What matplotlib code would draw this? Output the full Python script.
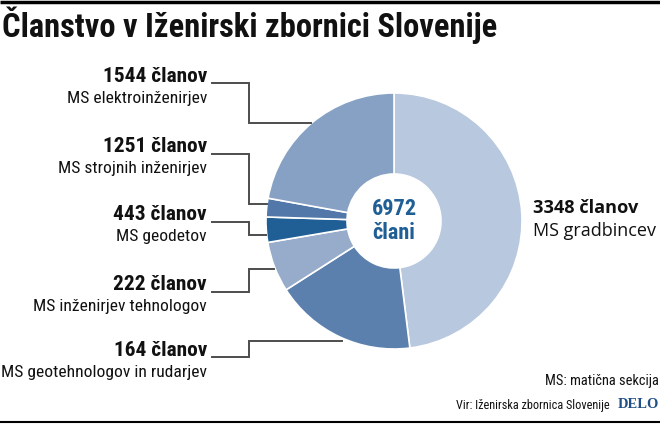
import matplotlib
matplotlib.use('Agg')
import matplotlib.pyplot as plt
from matplotlib import font_manager

names = {f.name for f in font_manager.fontManager.ttflist}
narrow = 'Roboto'
for f in ['Roboto Condensed', 'Liberation Sans Narrow', 'Open Sans Condensed']:
    if f in names:
        narrow = f
        break

# data, in drawing order (clockwise from the top)
sekcije = ['MS gradbincev', 'MS strojnih inženirjev', 'MS geodetov',
           'MS inženirjev tehnologov', 'MS geotehnologov in rudarjev', 'MS elektroinženirjev']
clani = [3348, 1251, 443, 222, 164, 1544]
barve = ['#b8c8df', '#5b80ae', '#96acca', '#1f5f96', '#5178a9', '#86a1c3']
skupaj = 6972

# left side labels (top to bottom)
lev_st = [1544, 1251, 443, 222, 164]
lev_ime = ['MS elektroinženirjev', 'MS strojnih inženirjev', 'MS geodetov',
           'MS inženirjev tehnologov', 'MS geotehnologov in rudarjev']

W, H = 660, 424
fig = plt.figure(figsize=(6.6, 4.24), dpi=100)
ax = fig.add_axes([0, 0, 1, 1])
rend = fig.canvas.get_renderer()

def Y(y):
    return H - y

def fit(t, w):
    # shrink/grow a text so that it is w pixels wide
    bb = t.get_window_extent(rend)
    t.set_fontsize(t.get_fontsize() * w / bb.width)
    return t

cx, cy, r = 394, 221, 128
ax.pie(clani, colors=barve, startangle=90, counterclock=False,
       center=(cx, Y(cy)), radius=r, frame=True,
       wedgeprops=dict(width=r - 47, edgecolor='white', linewidth=1.2))
ax.set_xlim(0, W)
ax.set_ylim(0, H)
ax.set_aspect('equal')
ax.axis('off')

t = ax.text(cx, Y(cy), f'{skupaj}\nčlani', ha='center', va='center', fontsize=16,
            fontweight='bold', color='#1f5f96', family=narrow, linespacing=1.12)

# title and rules
ax.plot([0, W], [Y(1.5), Y(1.5)], color='black', lw=2.5, solid_capstyle='butt')
ax.plot([0, W], [Y(421.5), Y(421.5)], color='black', lw=1.5, solid_capstyle='butt')
t = ax.text(2, Y(25), 'Članstvo v Iženirski zbornici Slovenije', ha='left', va='center',
            fontsize=20, fontweight='bold', family=narrow, color='#111111')
fit(t, 495)

# leader lines: (label y, elbow y, end x)
vodila = [(83, 123, 311), (154, 204, 267), (222, 235, 266), (292, 269, 274), (357, 341, 342)]
lab_y = [76, 147, 215, 285, 350]
fs_b, fs_n = None, None
for (y0, y1, x1), ly, st, ime in zip(vodila, lab_y, lev_st, lev_ime):
    ax.plot([212, 248.5, 248.5, x1], [Y(y0), Y(y0), Y(y1), Y(y1)],
            color='#4d4d4d', lw=1.4, solid_joinstyle='miter')
    tb = ax.text(207, Y(ly), f'{st} članov', ha='right', va='center', fontsize=13,
                 fontweight='bold', family=narrow, color='#111111')
    tn = ax.text(207, Y(ly + 22), ime, ha='right', va='center', fontsize=12,
                 family=narrow, color='#111111')
    if fs_b is None:
        fs_b = fit(tb, 104).get_fontsize()
    tb.set_fontsize(fs_b)
    if ime == lev_ime[-1]:
        fs_n = fit(tn, 205).get_fontsize()
for t in ax.texts[-10:]:
    if t.get_fontweight() != 'bold':
        t.set_fontsize(fs_n)

t1 = ax.text(533, Y(208), f'{clani[0]} članov', ha='left', va='center', fontsize=13,
             fontweight='bold', family='Open Sans', color='#111111')
fit(t1, 104)
t2 = ax.text(533, Y(231), sekcije[0], ha='left', va='center', fontsize=12,
             family='Open Sans', color='#111111')
fit(t2, 123)

t = ax.text(659, Y(381), 'MS: matična sekcija', ha='right', va='center', fontsize=10,
            family=narrow, color='#111111')
fit(t, 113)
t = ax.text(610, Y(405), 'Vir: Iženirska zbornica Slovenije', ha='right', va='center',
            fontsize=9, family=narrow, color='#111111')
fit(t, 154)
t = ax.text(659, Y(405), 'DELO', ha='right', va='center', fontsize=11,
            fontweight='bold', family='Liberation Serif', color='#1f4f86')
fit(t, 41)

fig.savefig('out.png', dpi=100)
